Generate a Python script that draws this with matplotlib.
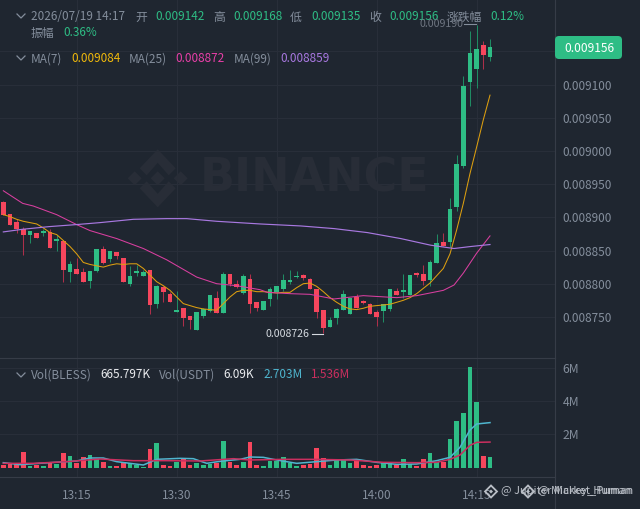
import matplotlib as mpl
mpl.use('Agg')
import matplotlib.pyplot as plt
from matplotlib.lines import Line2D
from matplotlib.patches import FancyBboxPatch, Polygon
from matplotlib.transforms import IdentityTransform
import numpy as np

plt.rcParams['font.family'] = ['Noto Sans CJK SC', 'DejaVu Sans']

BG = '#1f2630'
GRID = '#282e39'
BORDER = '#363c47'
LABEL = '#848e9c'
GREEN = '#2ebd85'
RED = '#f6465d'
GREEN_W = '#1f8a63'
RED_W = '#ad2f4a'

W, H = 640, 509

# one candle per minute from 13:04, prices x 1e-6
opens = [8923, 8905, 8893, 8882, 8874, 8876, 8876, 8878, 8864, 8865,
         8818, 8822, 8817, 8804, 8819, 8852, 8837, 8847, 8839, 8800,
         8816, 8812, 8820, 8770, 8795, 8785, 8758, 8763, 8751, 8730,
         8751, 8759, 8779, 8756, 8814, 8800, 8786, 8807, 8772, 8760,
         8777, 8788, 8792, 8803, 8810, 8813, 8807, 8792, 8761, 8735,
         8748, 8760, 8755, 8780, 8774, 8770, 8757, 8759, 8762, 8789,
         8787, 8783, 8816, 8814, 8806, 8831, 8863, 8863, 8915, 8977,
         9104, 9123, 9160, 9142]
highs = [8924, 8905, 8898, 8886, 8879, 8877, 8883, 8882, 8874, 8866,
         8834, 8838, 8823, 8819, 8852, 8857, 8850, 8847, 8839, 8827,
         8828, 8821, 8821, 8798, 8796, 8788, 8789, 8763, 8751, 8757,
         8763, 8783, 8789, 8817, 8814, 8806, 8814, 8814, 8772, 8774,
         8795, 8796, 8815, 8820, 8819, 8814, 8808, 8792, 8761, 8750,
         8764, 8790, 8779, 8784, 8775, 8771, 8760, 8770, 8792, 8794,
         8814, 8813, 8818, 8828, 8835, 8875, 8877, 8929, 8994, 9113,
         9180, 9190, 9165, 9168]
lows = [8904, 8888, 8876, 8843, 8862, 8869, 8872, 8854, 8850, 8802,
        8803, 8814, 8802, 8794, 8818, 8830, 8832, 8837, 8802, 8797,
        8811, 8812, 8754, 8763, 8773, 8772, 8758, 8736, 8732, 8730,
        8748, 8757, 8756, 8756, 8796, 8794, 8784, 8756, 8759, 8760,
        8766, 8777, 8789, 8800, 8808, 8805, 8792, 8749, 8726, 8735,
        8739, 8760, 8755, 8764, 8770, 8754, 8737, 8743, 8759, 8783,
        8779, 8783, 8810, 8798, 8796, 8831, 8857, 8855, 8910, 8975,
        9067, 9095, 9124, 9135]
closes = [8904, 8888, 8883, 8874, 8879, 8869, 8879, 8854, 8867, 8821,
          8829, 8814, 8803, 8819, 8852, 8831, 8850, 8841, 8803, 8812,
          8819, 8818, 8768, 8797, 8788, 8772, 8760, 8749, 8745, 8757,
          8762, 8783, 8756, 8814, 8799, 8795, 8811, 8770, 8763, 8774,
          8792, 8796, 8805, 8806, 8812, 8809, 8792, 8758, 8733, 8746,
          8762, 8784, 8779, 8764, 8771, 8755, 8750, 8770, 8792, 8783,
          8790, 8813, 8813, 8804, 8832, 8861, 8857, 8912, 8980, 9098,
          9148, 9154, 9145, 9156]

ma7 = [8904, 8901, 8897, 8894, 8892, 8890, 8884, 8877, 8874, 8865,
       8856, 8845, 8832, 8829, 8827, 8825, 8828, 8830, 8829, 8830,
       8830, 8823, 8813, 8803, 8797, 8790, 8780, 8770, 8767, 8764,
       8762, 8761, 8760, 8770, 8780, 8788, 8790, 8790, 8788, 8788,
       8787, 8786, 8787, 8787, 8794, 8800, 8801, 8796, 8788, 8779,
       8772, 8766, 8762, 8761, 8763, 8766, 8767, 8768, 8769, 8772,
       8775, 8779, 8785, 8793, 8801, 8812, 8823, 8845, 8881, 8921,
       8966, 9006, 9047, 9084]

ma25_x = [0, 2.9, 4.5, 8, 11, 13, 17, 21, 24.5, 29, 32, 35, 38.5, 39.6,
          43, 46, 49.6, 54, 59, 62, 66, 67.6, 69, 71, 73]
ma25 = [8940, 8921, 8917, 8904, 8889, 8880, 8868, 8853, 8836, 8810, 8800,
        8797, 8791, 8787, 8785, 8784, 8777, 8782, 8779, 8782, 8790, 8798,
        8816, 8846, 8872]

ma99_x = [0, 2.9, 6.9, 10.9, 14.5, 19.5, 24.5, 27.5, 32, 38.5, 44.6, 49.6,
          54.6, 59.6, 64.1, 67.6, 70.1, 73]
ma99 = [8878, 8882, 8886, 8889, 8892, 8897, 8898, 8898, 8894, 8890, 8887,
        8883, 8877, 8868, 8858, 8853, 8856, 8859]

# volume in millions
volume = [0.16, 0.20, 0.30, 0.96, 0.10, 0.16, 0.10, 0.36, 0.22, 0.86,
          0.70, 0.30, 0.66, 0.74, 0.54, 0.36, 0.12, 0.10, 0.36, 0.26,
          0.18, 0.06, 1.12, 1.48, 0.14, 0.12, 0.34, 0.56, 0.16, 0.28,
          0.14, 0.22, 0.30, 1.60, 0.36, 0.16, 0.36, 1.52, 0.16, 0.10,
          0.38, 0.40, 0.62, 0.30, 0.10, 0.14, 0.24, 1.16, 0.58, 0.16,
          0.54, 0.50, 0.30, 0.50, 0.14, 0.12, 0.14, 0.26, 0.26, 0.16,
          0.50, 0.22, 0.12, 0.54, 0.86, 0.36, 0.32, 1.70, 2.80, 3.26,
          6.04, 3.94, 0.70, 0.666]

vol_a_x = [0, 2.5, 7, 11, 13, 15, 17, 21, 23, 26.5, 28.5, 30.5, 32.5, 35.5,
           37, 39, 41, 44, 47, 50, 53, 56, 59, 62, 65, 67, 68.5, 70, 71, 73]
vol_a = [0.30, 0.18, 0.30, 0.40, 0.58, 0.58, 0.36, 0.16, 0.50, 0.56, 0.54,
         0.26, 0.38, 0.50, 0.64, 0.62, 0.46, 0.26, 0.36, 0.46, 0.50, 0.32,
         0.20, 0.22, 0.42, 0.62, 1.22, 2.26, 2.62, 2.703]
vol_b_x = [0, 4.5, 9.5, 14.5, 19.5, 24.5, 29.5, 34.5, 37, 42, 47, 52, 57, 62,
           65, 67, 68.5, 70, 71, 73]
vol_b = [0.26, 0.26, 0.36, 0.52, 0.42, 0.42, 0.40, 0.54, 0.46, 0.50, 0.50,
         0.46, 0.32, 0.30, 0.32, 0.50, 0.76, 1.34, 1.52, 1.536]

price_ticks = [8750, 8800, 8850, 8900, 8950, 9000, 9050, 9100]
grid_prices = price_ticks + [9150]
time_ticks = [11, 26, 41, 56, 71]
time_labels = ['13:15', '13:30', '13:45', '14:00', '14:15']

opens = np.array(opens) * 1e-6
highs = np.array(highs) * 1e-6
lows = np.array(lows) * 1e-6
closes = np.array(closes) * 1e-6
x = np.arange(len(opens))
up = closes >= opens

fig = plt.figure(figsize=(W / 100, H / 100), dpi=100, facecolor=BG)


def box(left, top, right, bottom):
    return [left / W, 1 - bottom / H, (right - left) / W, (bottom - top) / H]


def fp(px, py):
    return px / W, 1 - py / H


ax = fig.add_axes(box(0, 0, 555, 358), facecolor=BG)
vax = fig.add_axes(box(0, 358, 555, 477), facecolor=BG)

for a in (ax, vax):
    a.set_xlim(-0.5, 82.75)
    a.set_xticks(time_ticks)
    a.grid(True, color=GRID, lw=0.8)
    a.set_axisbelow(True)
    a.yaxis.tick_right()
    a.tick_params(length=0, colors=LABEL, labelsize=8.5, pad=5.5)
    for side in ('left', 'top', 'bottom'):
        a.spines[side].set_visible(False)
    a.spines['right'].set_color(BORDER)
    a.spines['right'].set_linewidth(0.8)

# watermark
fig.text(315 / W, 1 - 179 / H, 'BINANCE', color='#282d37', fontsize=33,
         family='DejaVu Sans', weight='bold', ha='center', va='center', zorder=0.5)
lx, ly = 157.7, 178.3
chevron = [(0, -29), (18, -10), (11, -3), (0, -15.5), (-11, -3), (-18, -10)]
diamond = [(0, -7), (7, 0), (0, 7), (-7, 0)]
shapes = [chevron, [(a, -b) for a, b in chevron], diamond,
          [(a - 23, b) for a, b in diamond], [(a + 23, b) for a, b in diamond]]
for s in shapes:
    fig.add_artist(Polygon([fp(lx + a, ly + b) for a, b in s], closed=True,
                           transform=fig.transFigure, fc='#282d37', ec='none', zorder=0.5))
ax.patch.set_alpha(0)
vax.patch.set_alpha(0)

# candles
ax.vlines(x[up], lows[up], highs[up], color=GREEN_W, lw=0.75)
ax.vlines(x[~up], lows[~up], highs[~up], color=RED_W, lw=0.75)
ax.bar(x, np.abs(closes - opens), bottom=np.minimum(opens, closes), width=0.72,
       color=[GREEN if u else RED for u in up], linewidth=0, zorder=3)

ax.plot(x, np.array(ma7) * 1e-6, color='#dd9f10', lw=0.75, zorder=4)
ax.plot(ma25_x, np.array(ma25) * 1e-6, color='#d93fa0', lw=0.75, zorder=4)
ax.plot(ma99_x, np.array(ma99) * 1e-6, color='#a878e0', lw=0.85, zorder=4)

ax.set_ylim(0.0086881, 0.0092273)
ax.set_yticks([p * 1e-6 for p in grid_prices])
ax.set_yticklabels([f'{p * 1e-6:.6f}' for p in price_ticks] + [''])
ax.set_xticklabels([])

# volume
vax.bar(x, volume, width=0.72, color=[GREEN if u else RED for u in up], linewidth=0, zorder=3)
vax.plot(vol_a_x, vol_a, color='#4fb6cf', lw=1.1, zorder=4)
vax.plot(vol_b_x, vol_b, color='#cb2f5f', lw=1.1, zorder=5)
vax.set_ylim(-0.56, 6.58)
vax.set_yticks([2, 4, 6])
vax.set_yticklabels(['2M', '4M', '6M'])
vax.set_xticklabels(time_labels)
vax.tick_params(axis='x', pad=8.6)
vax.tick_params(axis='y', labelsize=8.8, pad=5.5)

# panel separators and the axis edge below the panels
for py in (358, 477):
    fig.add_artist(Line2D([0, 555 / W], [1 - py / H] * 2, color=BORDER, lw=0.8))
fig.add_artist(Line2D([555 / W] * 2, [0, 32 / H], color=BORDER, lw=0.8))


def label(px, py, s, color=LABEL, size=8.5, **kw):
    fig.text(px / W, 1 - py / H, s, color=color, fontsize=size, va='center', ha='left', zorder=6, **kw)


def chevron_mark(py):
    pts = [fp(17, py - 2), fp(21, py + 2), fp(25, py - 2)]
    fig.add_artist(Line2D([p[0] for p in pts], [p[1] for p in pts], color=LABEL, lw=0.9))


# header rows
chevron_mark(16)
chevron_mark(58)
chevron_mark(375)
row1 = [(31, '2026/07/19 14:17', LABEL), (135, '开', LABEL), (155, '0.009142', GREEN),
        (213, '高', LABEL), (233, '0.009168', GREEN), (290, '低', LABEL),
        (311, '0.009135', GREEN), (369, '收', LABEL), (389, '0.009156', GREEN),
        (447, '涨跌幅', LABEL), (490, '0.12%', GREEN)]
for px, s, c in row1:
    label(px, 17, s, c)
label(31, 33, '振幅')
label(63, 33, '0.36%', GREEN)

row2 = [(31, 'MA(7)', LABEL), (71, '0.009084', '#f0b90b'), (129, 'MA(25)', LABEL),
        (175, '0.008872', '#e83fa8'), (234, 'MA(99)', LABEL), (280, '0.008859', '#a878e0')]
for px, s, c in row2:
    label(px, 59, s, c)

row3 = [(31, 'Vol(BLESS)', LABEL), (100, '665.797K', '#eaecef'), (159, 'Vol(USDT)', LABEL),
        (223, '6.09K', '#eaecef'), (263, '2.703M', '#4fb6cf'), (311, '1.536M', '#cb2f5f')]
for px, s, c in row3:
    label(px, 375, s, c)

# high and low markers
label(420, 24, '0.009190', '#6f7682', 7.6)
fig.add_artist(Line2D([464 / W, 476 / W], [1 - 24 / H] * 2, color='#848e9c', lw=0.8))
label(266, 334, '0.008726', '#d5dae0', 7.6)
fig.add_artist(Line2D([312 / W, 323 / W], [1 - 334 / H] * 2, color='#d5dae0', lw=0.8))

# last price tag
tag = FancyBboxPatch((555, H - 59), 67, 23, boxstyle='round,pad=0,rounding_size=4',
                     transform=IdentityTransform(), fc=GREEN, ec='none', zorder=5)
fig.add_artist(tag)
fig.text(589 / W, 1 - 48 / H, '0.009156', color='white', fontsize=8.6, ha='center', va='center', zorder=6)

# user watermarks, they overlap in the source
wm = '#b9bec6'
for lxx, s in ((491, '@ Jupiter Market_Puman'), (528, '@ Mickey_Human')):
    cy = 491.5
    fig.add_artist(Polygon([fp(lxx, cy - 6), fp(lxx + 6, cy), fp(lxx, cy + 6), fp(lxx - 6, cy)],
                           closed=True, transform=fig.transFigure, fc='none', ec=wm, lw=1.3, zorder=7))
    fig.add_artist(Polygon([fp(lxx, cy - 2), fp(lxx + 2, cy), fp(lxx, cy + 2), fp(lxx - 2, cy)],
                           closed=True, transform=fig.transFigure, fc=wm, ec='none', zorder=7))
    label(lxx + 10, 491.5, s, wm, 8)

fig.savefig('out.png', dpi=100, facecolor=BG)
